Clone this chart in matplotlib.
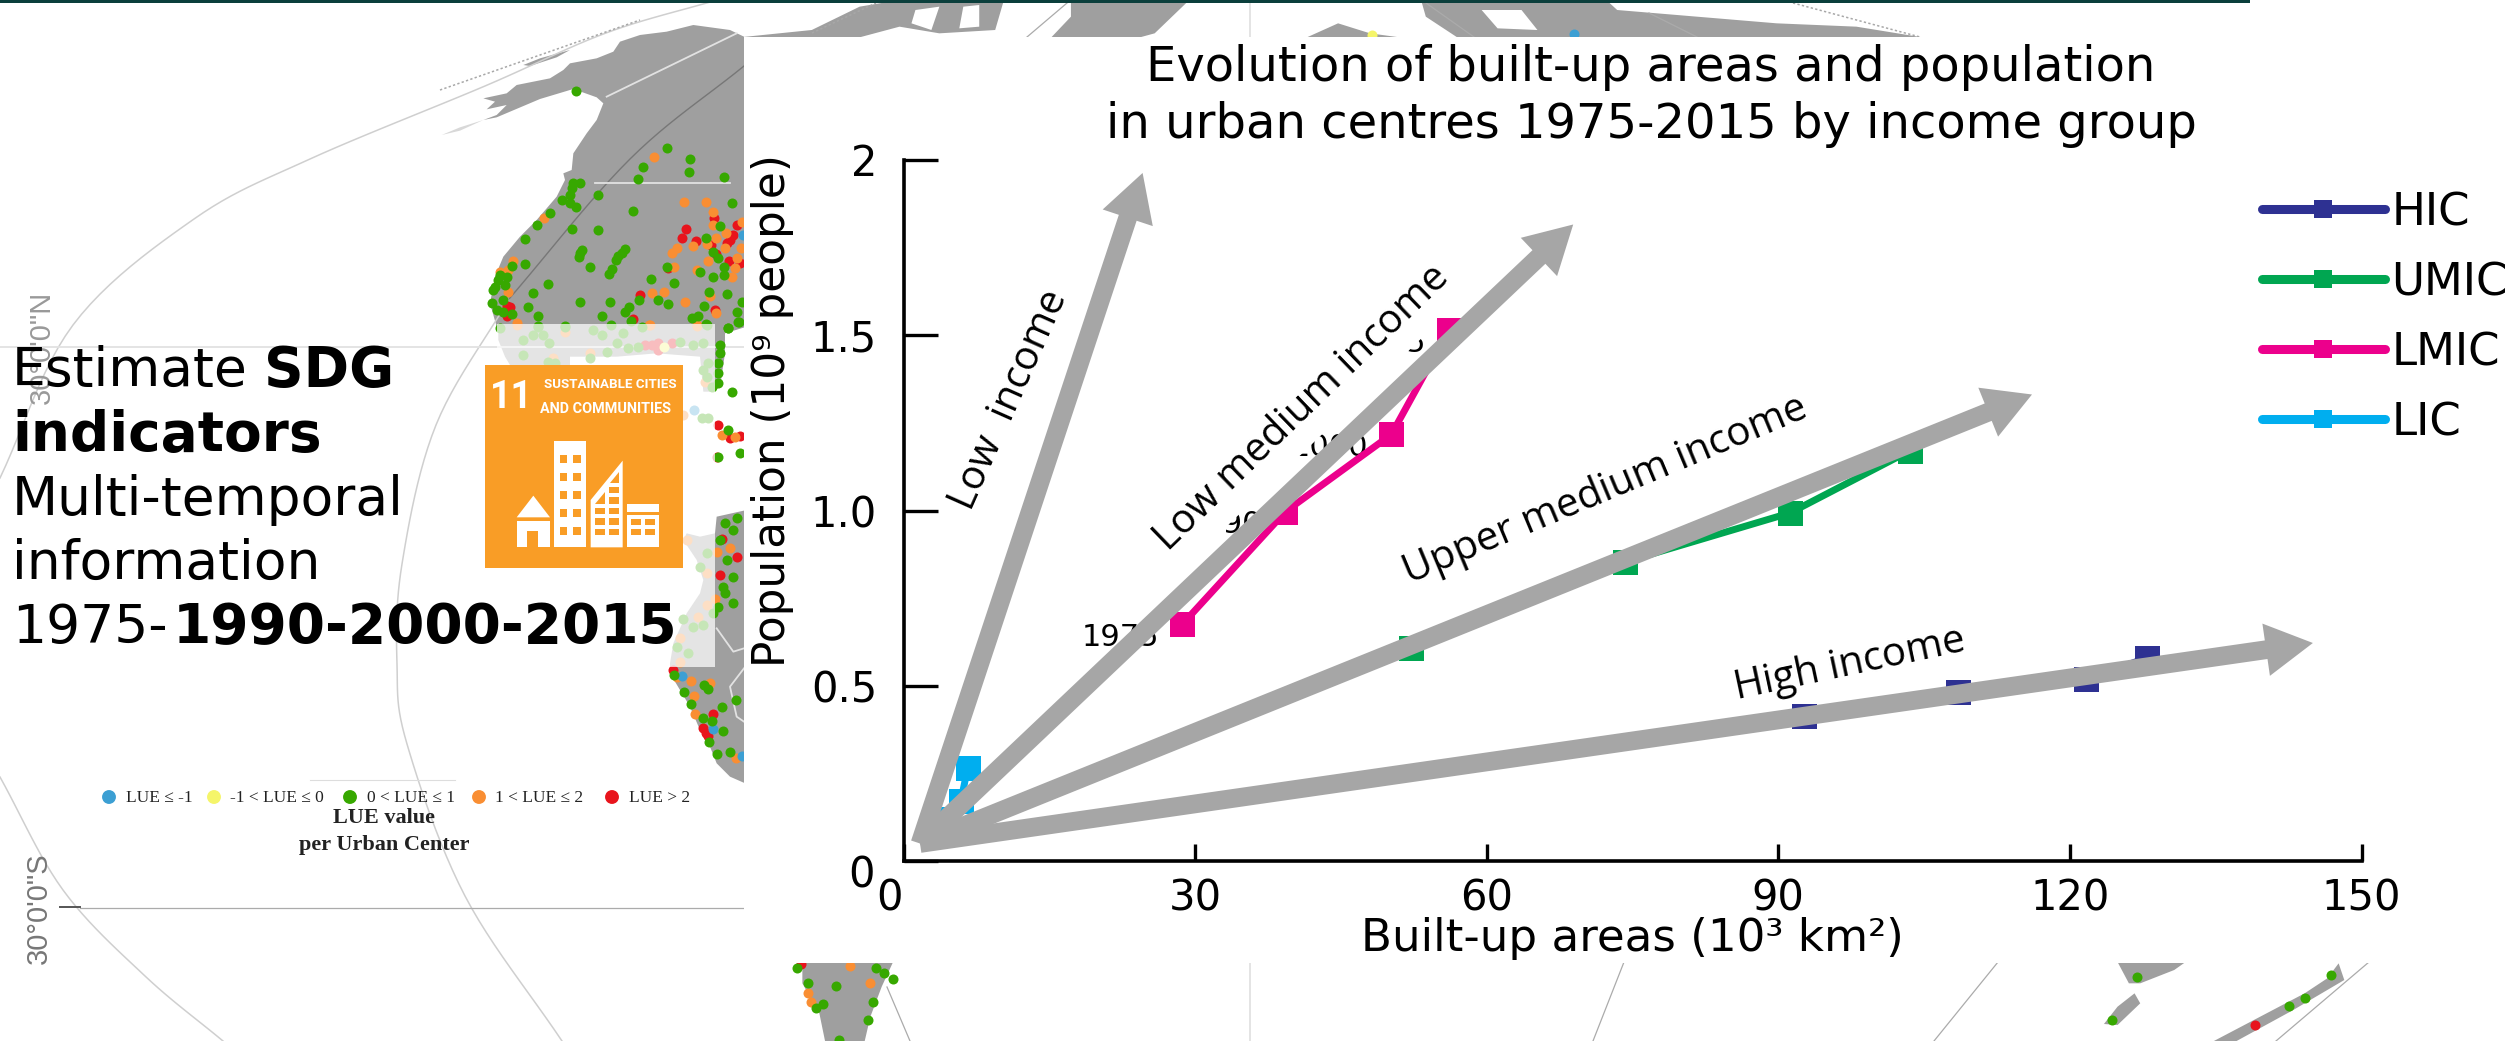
import matplotlib
matplotlib.use("Agg")
import matplotlib.pyplot as plt
import numpy as np
from matplotlib.patches import Rectangle, Polygon, FancyArrowPatch
from matplotlib.transforms import ScaledTranslation

W, H = 2517, 1041
DPI = 100

# ---------- chart data ----------
hic_x = [92.6, 108.5, 121.7, 127.9]
hic_y = [0.414, 0.482, 0.519, 0.579]
umic_x = [52.2, 74.2, 91.2, 103.5]
umic_y = [0.608, 0.853, 0.993, 1.17]
lmic_x = [28.7, 39.3, 50.2, 56.1]
lmic_y = [0.676, 0.997, 1.217, 1.515]
lic_x = [3.5, 4.6, 5.9, 6.6]
lic_y = [0.09, 0.12, 0.171, 0.265]
years = ["1975", "1990", "2000", "2015"]

x_ticks = [0, 30, 60, 90, 120, 150]
y_ticks = [0, 0.5, 1.0, 1.5, 2]
y_tick_labels = ["0", "0.5", "1.0", "1.5", "2"]

arrow_start = (1.7, 0.05)
arrow_tips = [(24.6, 1.963), (68.9, 1.816), (116.1, 1.331), (145.0, 0.622)]

GREY_ARROW = "#A6A6A6"
LAND = "#9F9F9F"
GREEN, ORANGE, RED, BLUE, YELLOW = "#37A800", "#F98E33", "#E8141C", "#3C9FD3", "#F5F56A"

# ---------- background map (zoom crop coordinates) ----------
def z5(p): return [(440 + x / 3, 20 + y / 3) for x, y in p]
def z6(p): return [(470 + x / 3, 320 + y / 3) for x, y in p]
def z7(p): return [(620 + x / 3, 590 + y / 3) for x, y in p]
def z8(p): return [(740 + x / 1.254, y / 3) for x, y in p]
def z9(p): return [(740 + x / 0.882, 950 + y / 3) for x, y in p]

def smooth(pts, n=12):
    # catmull-rom through the traced points so the arcs do not look kinked
    p = np.array(pts, dtype=float)
    p = np.vstack([2 * p[0] - p[1], p, 2 * p[-1] - p[-2]])
    out = []
    for i in range(1, len(p) - 2):
        for t in np.linspace(0, 1, n, endpoint=False):
            out.append(0.5 * (2 * p[i] + (p[i + 1] - p[i - 1]) * t
                              + (2 * p[i - 1] - 5 * p[i] + 4 * p[i + 1] - p[i + 2]) * t ** 2
                              + (3 * p[i] - p[i - 1] - 3 * p[i + 1] + p[i + 2]) * t ** 3))
    out.append(p[-2])
    return np.array(out)

north_america = (
    z5([(912, 50), (870, 30), (760, 15), (680, 35), (600, 45), (540, 65), (520, 95), (470, 115),
        (390, 130), (370, 150), (330, 175), (230, 195), (200, 220), (130, 235), (165, 245),
        (140, 268), (200, 255), (170, 285), (130, 300), (170, 292), (300, 237),
        (400, 207), (470, 232), (490, 250), (470, 300), (440, 340), (400, 400), (395, 450),
        (370, 460), (375, 480), (350, 530), (290, 600), (240, 650), (190, 710), (165, 770),
        (150, 850), (170, 920)])
    + z6([(85, 10), (85, 60), (105, 110), (120, 135), (300, 135), (300, 110), (440, 110),
          (560, 100), (690, 110), (700, 215), (730, 215), (750, 200), (765, 100), (765, 40),
          (830, 20)])
)
aleutian = z5([(250, 135), (300, 115), (390, 90), (350, 112), (270, 138)])
sliver = z5([(5, 345), (60, 322), (130, 300), (60, 332)])
south_america = (
    z6([(830, 570), (740, 590), (735, 640), (690, 650), (650, 640), (640, 660), (680, 720), (700, 780), (690, 820)])
    + z7([(200, 70), (160, 160), (150, 220), (150, 250), (180, 300), (210, 350), (240, 420),
          (270, 470), (290, 520), (330, 560), (380, 582)])
)
top_land = [
    z8([(0, 112), (90, 90), (150, 20), (180, 8), (330, 8), (320, 90), (250, 100), (200, 80), (150, 112)]),
    z8([(415, 8), (560, 8), (520, 100), (500, 113), (390, 113), (415, 50)]),
    z8([(710, 113), (750, 70), (790, 100), (830, 113)]),
    z8([(855, 8), (1090, 8), (1100, 30), (1200, 50), (1300, 70), (1400, 80), (1485, 113), (900, 113), (860, 50)]),
]
top_gaps = [
    z8([(220, 30), (250, 20), (240, 90), (215, 70)]),
    z8([(280, 20), (300, 15), (300, 80), (275, 85)]),
    z8([(930, 30), (980, 30), (1000, 90), (950, 85)]),
]
bottom_land = [
    z9([(55, 36), (135, 36), (125, 110), (115, 200), (110, 273), (75, 273), (70, 190), (55, 100)]),
    z9([(1215, 36), (1275, 36), (1265, 60), (1235, 100), (1225, 100)]),
    z9([(1215, 170), (1230, 130), (1235, 160), (1215, 225), (1203, 222)]),
    z9([(1300, 273), (1380, 130), (1400, 85), (1410, 40), (1415, 90), (1370, 180), (1320, 273)]),
]
pale_arcs = [
    [(0, 478), (73, 325), (194, 219), (310, 159), (485, 86), (606, 33), (717, 0)],
    [(509, 299), (436, 425), (402, 564), (397, 664), (407, 744), (465, 896), (562, 1041)],
    [(0, 777), (63, 890), (145, 976), (223, 1041)],
]
land_arcs = [[(744, 66), (630, 159), (509, 299)]]
thin_lines = [
    [(80, 908), (744, 908)],
    [(1067, 3), (1027, 37)], [(1426, 3), (1474, 37)], [(1649, 13), (1697, 37)],
    [(887, 987), (910, 1041)], [(1624, 962), (1593, 1041)], [(1998, 962), (1934, 1041)], [(2369, 962), (2276, 1041)],
    [(2514, 500), (2511, 545)],
]
light_lines = [
    [(0, 347), (744, 347)], [(1250, 3), (1250, 37)], [(1250, 962), (1250, 1041)],
    z5([(465, 490), (870, 490)]), z5([(500, 230), (890, 40)]),
    z7([(290, 115), (340, 185), (372, 175)]), z7([(372, 235), (330, 290), (350, 380), (372, 395)]),
]
dotted = [[(812, 33), (876, 3)], [(1793, 3), (1920, 37)], [(440, 90), (640, 20)]]

green_pts = (
    z5([(408, 212), (680, 385), (751, 418), (746, 456), (608, 442), (595, 477), (852, 472), (400, 490), (420, 490),
        (395, 505), (473, 525), (365, 540), (390, 525), (390, 550), (408, 562), (330, 578), (290, 615), (578, 572),
        (876, 548), (255, 658), (396, 627), (473, 629), (840, 618), (425, 690), (420, 700), (416, 710), (555, 688),
        (545, 698), (535, 708), (527, 720), (515, 748), (508, 762), (451, 741), (255, 733), (215, 738), (180, 765),
        (175, 780), (165, 800), (160, 810), (200, 770), (195, 795), (323, 793), (278, 819), (420, 845), (510, 845),
        (190, 840), (157, 850), (170, 870), (190, 875), (265, 862), (294, 888), (215, 882), (487, 888), (566, 860),
        (555, 877), (597, 840), (655, 840), (685, 853), (793, 858), (860, 823), (905, 845), (890, 875), (897, 905),
        (775, 888), (755, 895), (798, 912), (865, 925), (572, 903), (513, 915), (375, 918), (295, 918), (702, 790),
        (632, 778), (820, 772), (852, 765), (852, 740), (780, 755), (835, 715), (820, 695), (798, 655), (680, 740),
        (808, 815)])
    + z6([(90, 25), (205, 20), (285, 20), (370, 30), (395, 45), (460, 40), (440, 70), (160, 60), (190, 45), (220, 45),
          (238, 70), (160, 105), (410, 95), (505, 80), (475, 85), (630, 65), (670, 75), (698, 70), (515, 20), (710, 15),
          (235, 125), (255, 130), (360, 115), (715, 130), (700, 150), (710, 170), (725, 200), (750, 75), (750, 100),
          (745, 130), (745, 160), (745, 190), (775, 25), (805, 5), (785, 215), (775, 330), (745, 410), (810, 400),
          (765, 610), (800, 595), (790, 630), (770, 720), (790, 770), (760, 800), (750, 660), (710, 700), (690, 740),
          (695, 295), (715, 295)])
    + z7([(316, 10), (340, 38), (295, 50), (190, 88), (220, 110), (250, 105), (170, 170), (205, 190), (278, 68),
          (162, 255), (192, 305), (213, 342), (253, 285), (265, 298), (347, 330), (307, 350), (248, 385), (277, 393),
          (310, 422), (267, 455), (290, 492), (331, 485)])
    + z9([(50, 55), (60, 100), (85, 108), (120, 55), (127, 68), (135, 88), (117, 155), (73, 162), (67, 175), (113, 210),
          (87, 270), (1232, 80), (1403, 75), (1380, 143), (1366, 168), (1210, 210)])
)
orange_pts = (
    z5([(642, 412), (313, 593), (220, 722), (205, 750), (180, 755), (203, 815), (732, 545), (798, 545), (820, 575),
        (820, 615), (905, 605), (858, 640), (828, 655), (855, 685), (760, 678), (800, 672), (712, 685), (695, 698),
        (805, 722), (703, 741), (885, 743), (875, 770), (770, 750), (902, 685), (890, 715), (635, 818), (672, 815),
        (810, 827), (735, 847), (827, 880), (230, 908), (628, 915), (770, 915)])
    + z6([(285, 35), (360, 98), (250, 115), (140, 15), (680, 17), (540, 15), (705, 185), (650, 660), (710, 760),
          (755, 345), (795, 352), (780, 685), (740, 695), (640, 285)])
    + z7([(172, 262), (213, 273), (271, 278), (222, 318), (225, 371), (348, 503), (285, 28), (180, 215), (260, 45),
          (235, 80), (180, 145)])
    + z9([(97, 48), (115, 100), (60, 130), (63, 155)])
)
red_pts = (
    z5([(738, 627), (726, 655), (767, 663), (822, 595), (890, 615), (880, 645), (870, 660), (860, 668), (812, 675),
        (828, 703), (868, 722), (900, 728), (685, 745), (200, 858), (210, 860), (200, 888), (580, 898), (600, 825),
        (825, 870)])
    + z6([(525, 75), (545, 75), (565, 70), (605, 70), (565, 90), (745, 315), (780, 355), (810, 348), (742, 410),
          (755, 658), (800, 710), (750, 765)])
    + z7([(158, 240), (279, 373), (250, 415), (258, 430), (265, 437)])
    + z9([(54, 42), (1336, 224)])
)
blue_pts = z5([(908, 645)]) + z6([(672, 270)]) + z7([(185, 258), (278, 416), (365, 497)]) + [(1574, 34)]
yellow_pts = z6([(582, 82)]) + [(1372, 35)]

lue_labels = ["LUE ≤ -1", "-1 < LUE ≤ 0", "0 < LUE ≤ 1", "1 < LUE ≤ 2", "LUE > 2"]
lue_colors = [BLUE, YELLOW, GREEN, ORANGE, RED]
lue_dot_x = [109, 214, 350, 479, 612]
lue_text_x = [126, 230, 367, 495, 629]

fig = plt.figure(figsize=(W / DPI, H / DPI), dpi=DPI, facecolor="white")
bg = fig.add_axes([0, 0, 1, 1])
bg.set_xlim(0, W)
bg.set_ylim(H, 0)
bg.axis("off")

for poly in [north_america, aleutian, south_america] + top_land + bottom_land:
    bg.add_patch(Polygon(poly, closed=True, fc=LAND, ec="none", zorder=1))
bg.add_patch(Polygon(sliver, closed=True, fc="#D8D8D8", ec="none", zorder=1))
for poly in top_gaps:
    bg.add_patch(Polygon(poly, closed=True, fc="white", ec="none", zorder=1.1))
for arc in pale_arcs:
    bg.plot(*smooth(arc).T, color="#CFCFCF", lw=1.1, zorder=2)
for arc in land_arcs:
    bg.plot(*smooth(arc).T, color="#777777", lw=1.0, zorder=2)
for line in thin_lines:
    bg.plot(*zip(*line), color="#ABABAB", lw=0.9, zorder=2)
for line in light_lines:
    bg.plot(*zip(*line), color="#E2E2E2", lw=1.3, zorder=2)
for line in dotted:
    bg.plot(*zip(*line), color="#A8A8A8", lw=1.1, ls=(0, (1.5, 1.5)), zorder=2)
bg.plot([60, 80], [907, 907], color="#555555", lw=1.4, zorder=2)

for pts, col in [(red_pts, RED), (orange_pts, ORANGE), (blue_pts, BLUE), (yellow_pts, YELLOW), (green_pts, GREEN)]:
    bg.scatter(*zip(*pts), s=52, color=col, linewidths=0, zorder=3)

# faded box over the map, then the white chart panel
bg.add_patch(Rectangle((497, 324), 218, 343, fc="white", alpha=0.72, ec="none", zorder=4))
bg.add_patch(Rectangle((744, 37), W - 744, 926, fc="white", ec="none", zorder=6))
bg.add_patch(Rectangle((0, 0), 2250, 2.5, fc="#0B3F3C", ec="none", zorder=6))

# SDG 11 icon
SDG = "#F99D26"
def box(x0, y0, x1, y1, col, z=5.2):
    p = z6([(x0, y0), (x1, y1)])
    bg.add_patch(Rectangle(p[0], p[1][0] - p[0][0], p[1][1] - p[0][1], fc=col, ec="none", zorder=z))

box(45, 135, 639, 743, SDG, 5)
bg.text(511, 398, "11", color="white", fontsize=27, fontweight="bold", family="Roboto", ha="center", va="center", zorder=5.2)
bg.text(610, 384, "SUSTAINABLE CITIES", color="white", fontsize=9.6, fontweight="bold", family="Roboto", ha="center", va="center", zorder=5.2)
bg.text(606, 409, "AND COMMUNITIES", color="white", fontsize=10.4, fontweight="bold", family="Roboto", ha="center", va="center", zorder=5.2)
box(253, 362, 349, 682, "white")
for wy0, wy1 in [(405, 430), (458, 484), (513, 538), (567, 592), (621, 646)]:
    box(270, wy0, 291, wy1, SDG, 5.3)
    box(310, wy0, 332, wy1, SDG, 5.3)
bg.add_patch(Polygon(z6([(362, 682), (362, 540), (458, 422), (458, 682)]), fc="white", ec="none", zorder=5.2))
for wy0, wy1 in [(563, 583), (595, 615), (627, 645)]:
    box(375, wy0, 405, wy1, SDG, 5.3)
    box(418, wy0, 448, wy1, SDG, 5.3)
box(418, 530, 448, 552, SDG, 5.3)
box(418, 500, 448, 520, SDG, 5.3)
bg.add_patch(Polygon(z6([(420, 490), (448, 490), (448, 455)]), fc=SDG, ec="none", zorder=5.3))
bg.add_patch(Polygon(z6([(375, 552), (405, 552), (405, 515)]), fc=SDG, ec="none", zorder=5.3))
box(470, 552, 568, 575, "white")
box(470, 585, 568, 682, "white")
for wy0, wy1 in [(597, 615), (627, 645)]:
    box(482, wy0, 513, wy1, SDG, 5.3)
    box(525, wy0, 556, wy1, SDG, 5.3)
bg.add_patch(Polygon(z6([(140, 592), (190, 527), (240, 592)]), fc="white", ec="none", zorder=5.2))
box(140, 602, 240, 682, "white")
box(172, 633, 205, 682, SDG, 5.3)

# left block of text
reg = dict(fontsize=38.5, color="black", va="center", ha="left", zorder=7)
bold = dict(fontsize=39.5, color="black", va="center", ha="left", zorder=7, fontweight="bold")
bg.text(12, 371, "Estimate", **reg)
bg.text(264, 371, "SDG", **bold)
bg.text(12, 436, "indicators", **bold)
bg.text(12, 500, "Multi-temporal", **reg)
bg.text(12, 564, "information", **reg)
bg.text(12, 628, "1975-", **reg)
bg.text(173, 628, "1990-2000-2015", **bold)

bg.text(42, 347, "30°0'0\"N", rotation=90, color="#999999", fontsize=21, family="Liberation Sans", ha="center", va="center", zorder=2.5)
bg.text(39, 908, "30°0'0\"S", rotation=90, color="#777777", fontsize=21, family="Liberation Sans", ha="center", va="center", zorder=2.5)

# LUE legend
bg.plot([310, 455], [780, 780], color="#DDDDDD", lw=0.8, zorder=2)
bg.scatter(lue_dot_x, [797] * 5, s=100, c=lue_colors, linewidths=0, zorder=7)
for tx, lab in zip(lue_text_x, lue_labels):
    bg.text(tx, 798, lab, family="Liberation Serif", fontsize=12.5, color="#222222", va="center", ha="left", zorder=7)
bg.text(384, 818, "LUE value", family="Liberation Serif", fontweight="bold", fontsize=16, color="#222222", ha="center", va="center", zorder=7)
bg.text(384, 845, "per Urban Center", family="Liberation Serif", fontweight="bold", fontsize=16, color="#222222", ha="center", va="center", zorder=7)

# ---------- chart ----------
ax = fig.add_axes([903.5 / W, (H - 861) / H, 1458 / W, 701 / H], zorder=2)
ax.patch.set_alpha(0)
ax.set_xlim(0, 150)
ax.set_ylim(0, 2)
ax.spines["top"].set_visible(False)
ax.spines["right"].set_visible(False)
ax.spines["left"].set_linewidth(2.6)
ax.spines["bottom"].set_linewidth(2.6)

ax.set_xticks(x_ticks)
ax.set_yticks(y_ticks)
ax.set_yticklabels(y_tick_labels)
ax.tick_params(axis="x", direction="in", length=12, width=2.4, labelsize=30, pad=12)
ax.tick_params(axis="y", direction="in", length=24.5, width=2.4, labelsize=30, pad=19)

# the two zeros sit off their ticks
xl0 = ax.get_xticklabels()[0]
xl0.set_transform(xl0.get_transform() + ScaledTranslation(-14 / DPI, 0, fig.dpi_scale_trans))
yl0 = ax.get_yticklabels()[0]
yl0.set_transform(yl0.get_transform() + ScaledTranslation(-2 / DPI, -10 / DPI, fig.dpi_scale_trans))

ax.set_xlabel("Built-up areas (10³ km²)", fontsize=32.5, va="center")
ax.xaxis.set_label_coords(0.4997, -0.111)
ax.set_ylabel("Population (10⁹ people)", fontsize=31.5, va="center")
ax.yaxis.set_label_coords(-0.09, 0.642)

series = [("HIC", hic_x, hic_y, "#2E3192"), ("UMIC", umic_x, umic_y, "#00A651"),
          ("LMIC", lmic_x, lmic_y, "#EC008C"), ("LIC", lic_x, lic_y, "#00AEEF")]
for name, xs, ys, col in series:
    ax.plot(xs, ys, color=col, lw=5, marker="s", ms=18, mew=0, label=name,
            solid_capstyle="round", clip_on=False, zorder=4.2)

for yr, xv, yv in zip(years, lmic_x, lmic_y):
    ax.annotate(yr, (xv, yv), xytext=(-16.5, -9.5), textcoords="offset points", ha="right", va="center",
                fontsize=22, color="black", zorder=3.5)

ax.text(41.0, 1.292, "Low medium income", rotation=44, rotation_mode="anchor", ha="center", va="center",
        fontsize=29, family="Open Sans", zorder=4, bbox=dict(fc="white", ec="none", pad=9))
ax.text(10.9, 1.315, "Low  income", rotation=66, rotation_mode="anchor", ha="center", va="center",
        fontsize=29, family="Open Sans", zorder=4)
ax.text(72.2, 1.058, "Upper medium income", rotation=22.7, rotation_mode="anchor", ha="center", va="center",
        fontsize=29, family="Open Sans", zorder=4)
ax.text(97.4, 0.559, "High income", rotation=12, rotation_mode="anchor", ha="center", va="center",
        fontsize=29, family="Open Sans", zorder=4)

for tip in arrow_tips:
    ax.add_patch(FancyArrowPatch(arrow_start, tip, arrowstyle="simple,head_length=34,head_width=38,tail_width=13.5",
                                 mutation_scale=1, shrinkA=0, shrinkB=0, fc=GREY_ARROW, ec="none",
                                 clip_on=False, zorder=5))

leg = ax.legend(loc="upper left", bbox_to_anchor=(2262 / W, (H - 191) / H), bbox_transform=fig.transFigure,
                frameon=False, fontsize=32.5, handlelength=2.72, handletextpad=0.15, labelspacing=0.6,
                borderpad=0, borderaxespad=0, markerscale=0.72, numpoints=1)
for line in leg.get_lines():
    line.set_linewidth(6.5)

fig.text(1651 / W, (H - 96) / H, "Evolution of built-up areas and population\nin urban centres 1975-2015 by income group",
         ha="center", va="center", fontsize=34.6, linespacing=1.29, zorder=9)

fig.savefig("out.png", dpi=DPI)
